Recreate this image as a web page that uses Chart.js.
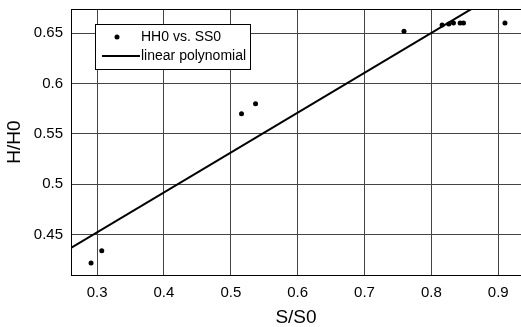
<!DOCTYPE html>
<html>
<head>
<meta charset="utf-8">
<script src="https://cdn.jsdelivr.net/npm/chart.js@4"></script>
<style>
  html, body { margin: 0; padding: 0; background: #fff; }
  #wrap { width: 521px; height: 327px; position: relative; }
</style>
</head>
<body>
<div id="wrap"><canvas id="fit"></canvas></div>
<script>
// measured points (S/S0 vs H/H0)
const sRatio = [0.291, 0.307, 0.516, 0.537, 0.759, 0.816, 0.826, 0.833, 0.843, 0.848, 0.910];
const hRatio = [0.422, 0.434, 0.570, 0.580, 0.652, 0.658, 0.659, 0.660, 0.660, 0.660, 0.660];

// linear polynomial fit, two end points
const fitX = [0.261, 0.870];
const fitY = [0.437, 0.678];

const xTicks = [0.3, 0.4, 0.5, 0.6, 0.7, 0.8, 0.9];
const yTicks = [0.45, 0.5, 0.55, 0.6, 0.65];

const FONT = "'Liberation Sans', Arial, sans-serif";

// top frame line + legend box drawn on top of the plot
const frameAndLegend = {
    id: "frameAndLegend",
    afterDatasetsDraw(chart) {
        const { ctx, chartArea: a } = chart;
        ctx.save();
        ctx.strokeStyle = "#000";
        ctx.lineWidth = 1;
        ctx.beginPath();
        ctx.moveTo(a.left, a.top + 0.5);
        ctx.lineTo(a.right, a.top + 0.5);
        ctx.stroke();

        // legend
        ctx.fillStyle = "#fff";
        ctx.fillRect(96, 24, 155, 45);
        ctx.strokeRect(95.5, 24.5, 155, 45);
        ctx.fillStyle = "#000";
        ctx.beginPath();
        ctx.arc(117, 37, 2.5, 0, Math.PI * 2);
        ctx.fill();
        ctx.lineWidth = 2;
        ctx.beginPath();
        ctx.moveTo(102, 56);
        ctx.lineTo(140, 56);
        ctx.stroke();
        ctx.font = "14px " + FONT;
        ctx.textBaseline = "middle";
        ctx.fillText("HH0 vs. SS0", 141, 37);
        ctx.fillText("linear polynomial", 141, 56);
        ctx.restore();
    },
};

new Chart(document.getElementById("fit"), {
    type: "scatter",
    data: {
        datasets: [
            {
                label: "HH0 vs. SS0",
                data: sRatio.map((x, i) => ({ x: x, y: hRatio[i] })),
                backgroundColor: "#000",
                borderColor: "#000",
                pointRadius: 2.5,
                borderWidth: 0,
            },
            {
                label: "linear polynomial",
                type: "line",
                data: fitX.map((x, i) => ({ x: x, y: fitY[i] })),
                borderColor: "#000",
                borderWidth: 2,
                pointRadius: 0,
                fill: false,
                tension: 0,
            },
        ],
    },
    options: {
        responsive: true,
        maintainAspectRatio: false,
        animation: false,
        layout: { autoPadding: false, padding: { top: 9, right: 0, left: 0, bottom: 0 } },
        plugins: {
            legend: { display: false },
            tooltip: { enabled: false },
        },
        scales: {
            x: {
                type: "linear",
                min: 0.261,
                max: 0.934,
                afterFit: (s) => { s.height = 52; s.paddingLeft = 0; s.paddingRight = 0; },
                afterBuildTicks: (s) => { s.ticks = xTicks.map((v) => ({ value: v })); },
                grid: { color: "#444", drawTicks: false },
                border: { color: "#000" },
                ticks: {
                    padding: 9,
                    color: "#000",
                    font: { family: FONT, size: 15 },
                    callback: (v) => String(v),
                },
                title: {
                    display: true,
                    text: "S/S0",
                    color: "#000",
                    font: { family: FONT, size: 19, lineHeight: 1 },
                    padding: 0,
                },
            },
            y: {
                min: 0.41,
                max: 0.674,
                afterFit: (s) => { s.width = 71; s.paddingTop = 0; s.paddingBottom = 0; },
                afterBuildTicks: (s) => { s.ticks = yTicks.map((v) => ({ value: v })); },
                grid: { color: "#444", drawTicks: false },
                border: { color: "#000" },
                ticks: {
                    padding: 8,
                    color: "#000",
                    font: { family: FONT, size: 15 },
                    callback: (v) => String(v),
                },
                title: {
                    display: true,
                    text: "H/H0",
                    color: "#000",
                    font: { family: FONT, size: 19, lineHeight: 1 },
                    padding: { top: 5, bottom: 0 },
                },
            },
        },
    },
    plugins: [frameAndLegend],
});
</script>
</body>
</html>
